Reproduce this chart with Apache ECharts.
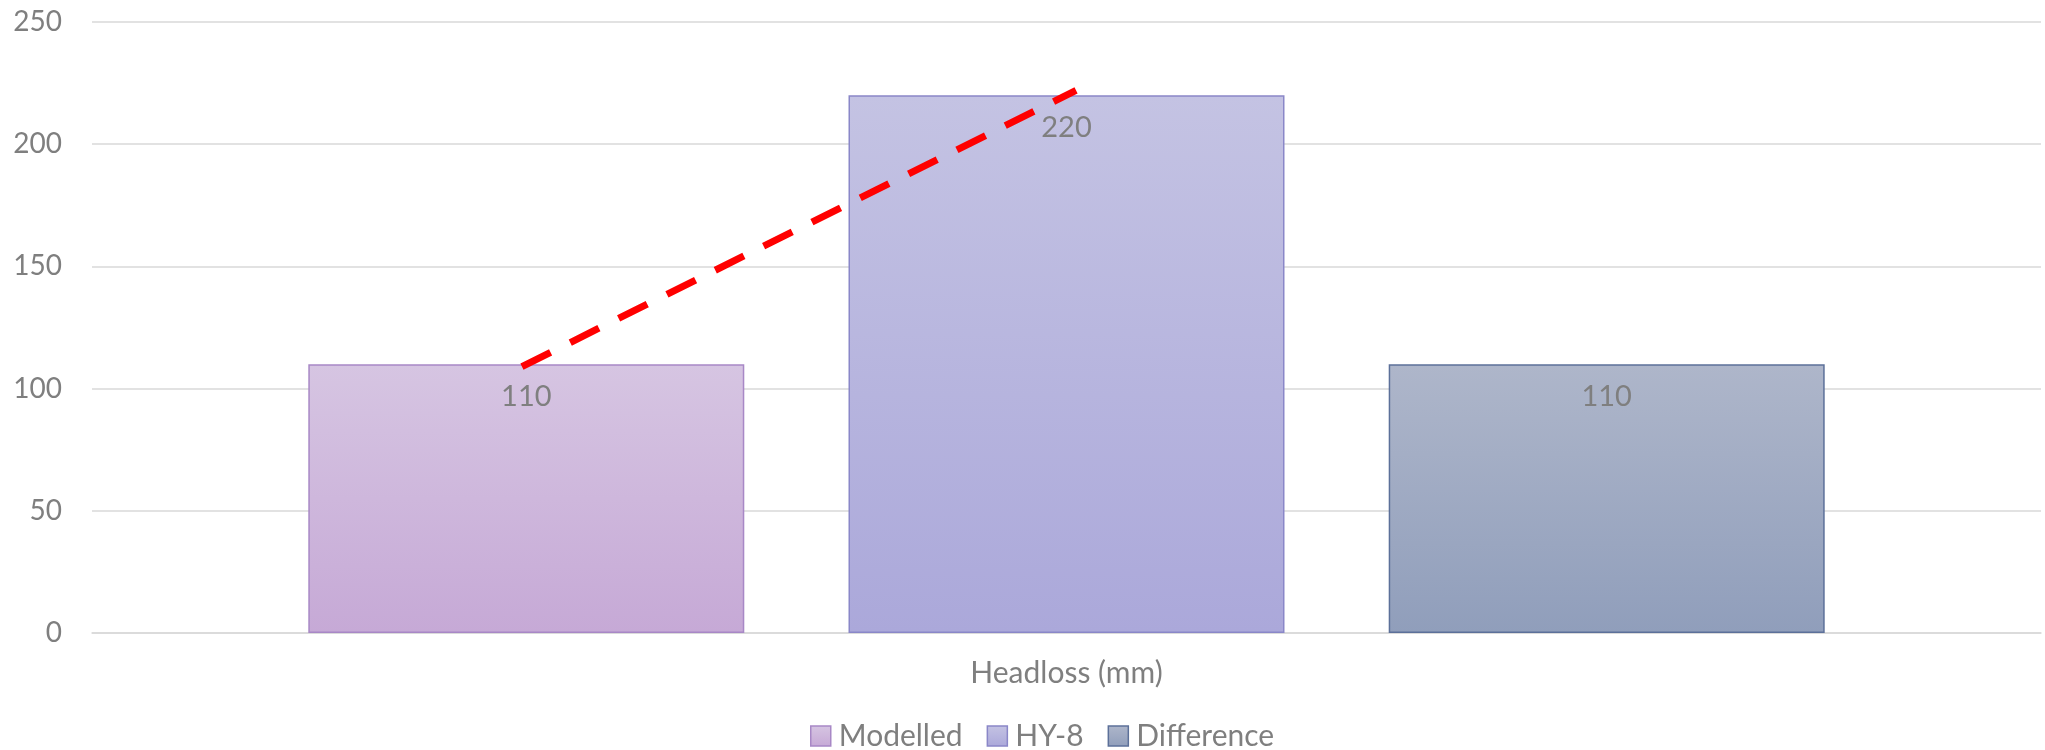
<!DOCTYPE html>
<html>
<head>
<meta charset="utf-8">
<script src="https://cdn.jsdelivr.net/npm/echarts@6/dist/echarts.min.js"></script>
<style>
  html, body { margin: 0; padding: 0; background: #ffffff; }
  #chart { width: 2045px; height: 750px; }
</style>
</head>
<body>
<div id="chart"></div>
<script>
// Category and series values
const categories = ['Headloss (mm)'];
const seriesNames = ['Modelled', 'HY-8', 'Difference'];
const modelled = [110];
const hy8 = [220];
const difference = [110];
// Red dashed trend annotation: [fraction across plot, value]
const trendLine = [[0.2206, 109], [0.5049, 222]];
const yTicks = { min: 0, max: 250, interval: 50 };

const FONT = 'Lato, "Open Sans", sans-serif';
const GREY = '#7f7f7f';

function grad(top, bottom) {
  return new echarts.graphic.LinearGradient(0, 0, 0, 1, [
    { offset: 0, color: top },
    { offset: 1, color: bottom }
  ]);
}

const palettes = [
  { top: '#d6c5e2', bottom: '#c6a9d6', border: '#a888c6' },
  { top: '#c4c3e3', bottom: '#aba8da', border: '#8a87c8' },
  { top: '#aeb6ca', bottom: '#909ebb', border: '#5c7099' }
];
const values = [modelled, hy8, difference];

const barSeries = seriesNames.map((name, i) => ({
  name,
  type: 'bar',
  data: values[i],
  barWidth: 436,
  barGap: '23.9%',
  itemStyle: {
    color: grad(palettes[i].top, palettes[i].bottom),
    borderColor: palettes[i].border,
    borderWidth: 1.5
  },
  label: {
    show: true,
    position: 'insideTop',
    distance: 18,
    color: GREY,
    fontFamily: FONT,
    fontSize: 29
  }
}));

const chart = echarts.init(document.getElementById('chart'), null, { renderer: 'canvas' });
chart.setOption({
  animation: false,
  backgroundColor: '#ffffff',
  grid: { left: 92, right: 4, top: 22, bottom: 117, containLabel: false },
  legend: {
    data: seriesNames.map((n, i) => ({
      name: n,
      itemStyle: { color: grad(palettes[i].top, palettes[i].bottom), borderColor: palettes[i].border, borderWidth: 1.5 }
    })),
    bottom: -6,
    left: 805,
    icon: 'rect',
    itemWidth: 20,
    itemHeight: 20,
    itemGap: 24,
    textStyle: { color: GREY, fontFamily: FONT, fontSize: 30, padding: [0, 0, 0, 3] }
  },
  xAxis: [
    {
      type: 'category',
      data: categories,
      axisLine: { show: true, lineStyle: { color: '#d9d9d9', width: 1.5 } },
      axisTick: { show: false },
      axisLabel: { color: GREY, fontFamily: FONT, fontSize: 30, margin: 25 },
      splitLine: { show: false }
    },
    { type: 'value', min: 0, max: 1, show: false }
  ],
  yAxis: {
    type: 'value',
    min: yTicks.min,
    max: yTicks.max,
    interval: yTicks.interval,
    axisLine: { show: false },
    axisTick: { show: false },
    axisLabel: { color: GREY, fontFamily: FONT, fontSize: 28, margin: 30 },
    splitLine: { lineStyle: { color: '#d9d9d9', width: 1.5 } }
  },
  series: barSeries.concat([{
    name: 'trend',
    type: 'line',
    xAxisIndex: 1,
    data: trendLine,
    symbol: 'none',
    silent: true,
    z: 10,
    lineStyle: { color: '#ff0000', width: 7, type: [32, 22], cap: 'butt' }
  }])
});
</script>
</body>
</html>
